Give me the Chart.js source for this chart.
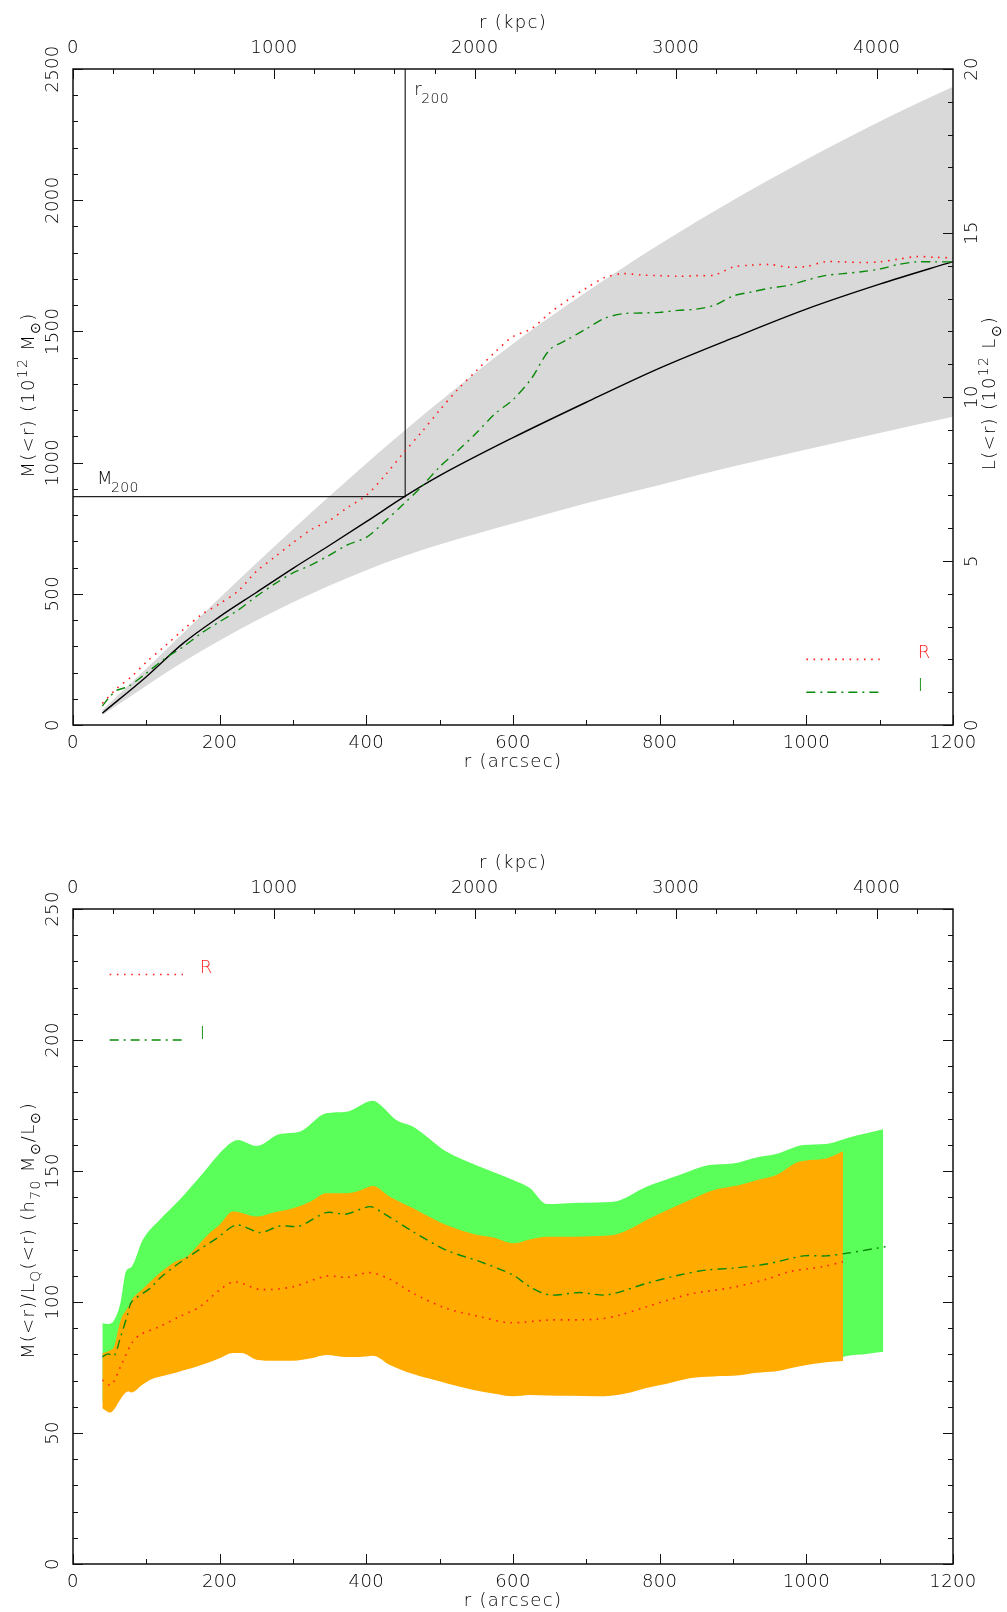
<!DOCTYPE html>
<html>
<head>
<meta charset="utf-8">
<title>M(&lt;r) and M/L profiles</title>
<script src="https://cdn.jsdelivr.net/npm/chart.js@4.4.1/dist/chart.umd.min.js"></script>
<style>
html, body { margin: 0; padding: 0; background: #fff; }
canvas { display: block; }
</style>
</head>
<body>
<canvas id="massChart" width="1007" height="800"></canvas>
<canvas id="ratioChart" width="1007" height="812"></canvas>
<script>
// axis tick labels
const xTicks = [0, 200, 400, 600, 800, 1000, 1200];
const kpcTicks = [0, 1000, 2000, 3000, 4000];
const massTicks = [0, 500, 1000, 1500, 2000, 2500];
const lumTicks = [0, 5, 10, 15, 20];
const ratioTicks = [0, 50, 100, 150, 200, 250];

const KPC_MAX = 4380;   // 1200 arcsec in kpc
const R200 = 453;
const M200 = 870;

// top panel: NFW fit and its band (10^12 Msun)
const nfwR = [40, 100, 150, 200, 250, 300, 350, 400, 453, 500, 600, 700, 800, 900, 1000, 1100, 1200];
const nfwMass = [45, 184, 311, 413, 505, 597, 685, 775, 872, 950, 1095, 1230, 1360, 1475, 1585, 1680, 1766];

const bandR = [40, 100, 150, 200, 250, 300, 350, 400, 450, 500, 555, 600, 700, 800, 900, 1000, 1100, 1200];
const bandHigh = [57, 215, 350, 484, 616, 746, 873, 997, 1117, 1233, 1356, 1453, 1650, 1832, 2000, 2155, 2300, 2432];
const bandLow = [38, 150, 240, 322, 398, 468, 532, 590, 642, 688, 733, 768, 845, 915, 985, 1050, 1113, 1175];

// top panel: luminosity L(<r) (10^12 Lsun), R and I band
const lumRadR = [40, 60, 80, 100, 125, 150, 175, 200, 225, 250, 275, 300, 325, 350, 375, 400, 425, 450, 475, 500,
  525, 550, 575, 600, 625, 650, 675, 700, 725, 750, 775, 800, 825, 850, 875, 900, 925, 950, 975, 1000,
  1025, 1050, 1075, 1100, 1125, 1150, 1175, 1200];
const lumR = [0.66, 1.12, 1.48, 1.92, 2.40, 2.90, 3.36, 3.70, 4.08, 4.68, 5.12, 5.56, 5.96, 6.24, 6.64, 7.00, 7.60, 8.28, 8.92, 9.60,
  10.24, 10.80, 11.36, 11.84, 12.08, 12.56, 12.96, 13.32, 13.64, 13.76, 13.72, 13.70, 13.68, 13.70, 13.72, 13.96, 14.02, 14.04, 13.96, 13.98,
  14.12, 14.12, 14.10, 14.12, 14.20, 14.28, 14.26, 14.24];

const lumRadI = [40, 50, 60, 75, 100, 125, 150, 175, 200, 225, 250, 275, 300, 325, 350, 375, 400, 425, 450, 475, 500,
  525, 550, 575, 600, 625, 650, 675, 700, 725, 750, 775, 800, 825, 850, 875, 900, 925, 950, 975, 1000,
  1025, 1050, 1075, 1100, 1125, 1150, 1175, 1200];
const lumI = [0.58, 0.86, 1.06, 1.17, 1.58, 2.02, 2.38, 2.80, 3.15, 3.50, 3.92, 4.30, 4.64, 4.88, 5.18, 5.50, 5.72, 6.20, 6.72, 7.26, 7.87,
  8.37, 8.90, 9.48, 9.92, 10.56, 11.44, 11.76, 12.08, 12.40, 12.54, 12.56, 12.58, 12.64, 12.68, 12.80, 13.08, 13.20, 13.32, 13.40, 13.56,
  13.70, 13.76, 13.82, 13.90, 14.04, 14.12, 14.12, 14.12];

// bottom panel: M/L uncertainty bands
const iBandR = [40, 48, 56, 65, 72, 80, 95, 118, 145, 173, 209, 225, 250, 282, 309, 345, 373, 409, 418, 441, 464, 509, 555, 600,
  623, 646, 691, 737, 782, 827, 868, 900, 932, 959, 996, 1027, 1050, 1055, 1082, 1105];
const iBandHigh = [91.9, 91.6, 93, 100, 111.5, 113.5, 123.7, 131.3, 138.9, 147.8, 159.3, 161.8, 159.5, 164.1, 165, 172, 172.6, 176.8, 175.5, 169.5, 166.9, 157.4, 151.6, 146.6,
  143.5, 137.4, 137.9, 138.3, 144, 148.5, 152.3, 152.9, 155.2, 156.5, 159.9, 160.3, 162, 162.5, 164.4, 165.9];
const iBandLow = [62, 61, 62, 66, 68, 69, 71, 74, 76, 78, 81, 82, 80, 80, 80, 81, 81, 81, 80, 78, 75, 71, 68, 66,
  66, 66, 66, 66, 69, 71, 73, 74, 75, 76, 77, 78.5, 79, 79.4, 80.2, 81];

const rBandR = [40, 50, 56, 65, 75, 80, 95, 110, 118, 140, 155, 170, 186, 200, 218, 230, 250, 275, 300, 325, 345, 373, 390, 409, 432,
  464, 493, 509, 546, 575, 600, 623, 646, 680, 714, 737, 760, 782, 810, 841, 873, 909, 932, 959, 991, 1027, 1050];
const rBandHigh = [80.4, 81.5, 82.9, 93.1, 98, 100.8, 105, 109, 111, 115.5, 117.3, 121.5, 126.2, 129.5, 134.5, 134, 132.6, 134.3, 135.8, 138.5, 141.5, 141.5, 142.5, 144.3, 140.2,
  135.8, 131.5, 129.4, 126, 124.5, 122.4, 123.9, 124.9, 124.9, 125.2, 125.6, 128, 131.3, 135, 138.9, 142.7, 144.7, 146.5, 148.5, 153.6, 154.8, 157.5];
const rBandLow = [59.4, 57.8, 59, 63, 65.8, 65.5, 68.5, 70.9, 71.5, 73, 74.2, 75.5, 77, 78.5, 80.5, 80.5, 78, 77.6, 77.6, 78.5, 79.8, 79, 79, 79.5, 76,
  72.5, 70.2, 69, 66.4, 65, 64, 64.5, 64.3, 64.2, 64, 64.3, 65.5, 67.2, 68.8, 70.9, 71.6, 72, 73, 73.6, 75.5, 77, 77.5];

// bottom panel: M/L curves
const mlRadR = [40, 52, 65, 80, 91, 118, 145, 173, 200, 220, 255, 300, 345, 373, 405, 432, 464, 509, 555, 595, 646, 714, 746,
  782, 827, 846, 900, 946, 977, 1023, 1050];
const mlR = [70.2, 68.3, 75.5, 84.2, 87.4, 90.6, 94.4, 98.2, 104.6, 107.7, 104.8, 105.8, 109.9, 109.4, 111.2, 108.7, 103.3, 97.6, 94.4, 92.1, 93.1, 93.4, 95,
  98.2, 102, 103.3, 105.6, 108.7, 111.6, 113.5, 115.4];
const mlRadI = [40, 48, 56, 65, 75, 80, 105, 118, 141, 168, 196, 223, 255, 282, 309, 345, 373, 405, 423, 464, 509, 555, 600, 623, 650,
  691, 728, 782, 827, 864, 900, 946, 996, 1027, 1055, 1108];
const mlI = [79.1, 80.2, 79.4, 86.8, 95.7, 100.1, 105.2, 109, 114.1, 119.2, 124.3, 129.4, 126.5, 129, 129, 134.1, 133.6, 136.4, 133.9, 126.8, 119.8, 115.4, 110.3, 105.8, 102.7,
  103.6, 102.7, 107.1, 110.3, 112.2, 112.9, 114.5, 117.6, 117.6, 118.6, 121.1];

const FONT = '"DejaVu Sans", sans-serif';
const INK = '#000';
const RED = '#ff1f1f';
const GREEN = '#0a8a0a';
const DOT = [1.6, 5.6];
const DASHDOT = [9, 5, 2, 5];

const pts = (xs, ys) => xs.map((x, i) => ({ x: x, y: ys[i] }));

// text with sub/superscripts: parts = [[text, shift]] shift 1 = sup, -1 = sub
function richText(ctx, parts, cx, cy, size, rotate) {
  ctx.save();
  ctx.translate(cx, cy);
  if (rotate) ctx.rotate(-Math.PI / 2);
  ctx.textAlign = 'left';
  ctx.textBaseline = 'alphabetic';
  ctx.letterSpacing = '1.3px';
  const fontFor = s => '200 ' + (s ? Math.round(size * 0.78) : size) + 'px ' + FONT;
  let total = 0;
  const widths = parts.map(p => {
    ctx.font = fontFor(p[1]);
    const w = ctx.measureText(p[0]).width;
    total += w;
    return w;
  });
  let x = -total / 2;
  parts.forEach((p, i) => {
    ctx.font = fontFor(p[1]);
    const dy = p[1] === 1 ? -size * 0.42 : p[1] === -1 ? size * 0.3 : 0;
    ctx.fillText(p[0], x, size * 0.36 + dy);
    x += widths[i];
  });
  ctx.restore();
}

function vText(ctx, txt, x, y) {
  ctx.save();
  ctx.translate(x, y);
  ctx.rotate(-Math.PI / 2);
  ctx.textAlign = 'center';
  ctx.textBaseline = 'middle';
  ctx.fillText(txt, 0, 0);
  ctx.restore();
}

function drawTicks(ctx, scale, ax, edge, dir, horizontal) {
  for (let v = scale.min; v <= scale.max + 1e-9; v += ax.minor) {
    const isMajor = Math.abs(v / ax.major - Math.round(v / ax.major)) < 1e-6;
    const len = isMajor ? 10 : 5;
    const p = Math.round(scale.getPixelForValue(v)) + 0.5;
    ctx.beginPath();
    if (horizontal) { ctx.moveTo(p, edge); ctx.lineTo(p, edge + dir * len); }
    else { ctx.moveTo(edge, p); ctx.lineTo(edge + dir * len, p); }
    ctx.stroke();
  }
}

function axisFrame(cfg) {
  return {
    id: 'axisFrame',
    afterDatasetsDraw(chart) {
      const ctx = chart.ctx, a = chart.chartArea, s = chart.scales;
      const midX = (a.left + a.right) / 2, midY = (a.top + a.bottom) / 2;
      ctx.save();
      ctx.strokeStyle = '#111';
      ctx.lineWidth = 1;
      drawTicks(ctx, s.x, { minor: 100, major: 200 }, a.bottom, -1, true);
      drawTicks(ctx, s.xk, { minor: 200, major: 1000 }, a.top, 1, true);
      drawTicks(ctx, s.y, cfg.left, a.left, 1, false);
      drawTicks(ctx, s[cfg.right.scale], cfg.right, a.right, -1, false);
      ctx.lineWidth = 1.5;
      ctx.strokeRect(a.left, a.top, a.right - a.left, a.bottom - a.top);

      ctx.fillStyle = INK;
      ctx.font = '200 18px ' + FONT;
      ctx.letterSpacing = '0.4px';
      ctx.textAlign = 'center';
      ctx.textBaseline = 'middle';
      xTicks.forEach(v => ctx.fillText(String(v), s.x.getPixelForValue(v), a.bottom + 18));
      kpcTicks.forEach(v => ctx.fillText(String(v), s.xk.getPixelForValue(v), a.top - 21));
      cfg.left.labels.forEach(v => vText(ctx, String(v), a.left - 20, s.y.getPixelForValue(v)));
      if (cfg.right.labels) {
        cfg.right.labels.forEach(v => vText(ctx, String(v), a.right + 19, s[cfg.right.scale].getPixelForValue(v)));
      }
      richText(ctx, [['r (kpc)', 0]], midX, a.top - 47, 18, false);
      richText(ctx, [['r (arcsec)', 0]], midX, a.bottom + 36, 18, false);
      richText(ctx, cfg.leftTitle, a.left - 45, midY + cfg.leftTitleShift, 18, true);
      if (cfg.rightTitle) richText(ctx, cfg.rightTitle, a.right + 36, midY - 4, 18, true);

      // legend
      const lg = cfg.legend;
      lg.rows.forEach(row => {
        const y = s.y.getPixelForValue(row.y);
        ctx.save();
        ctx.strokeStyle = row.color;
        ctx.lineWidth = row.width;
        ctx.setLineDash(row.dash);
        ctx.beginPath();
        ctx.moveTo(s.x.getPixelForValue(lg.x0), y);
        ctx.lineTo(s.x.getPixelForValue(lg.x1), y);
        ctx.stroke();
        ctx.restore();
        ctx.fillStyle = row.color;
        ctx.textAlign = 'left';
        ctx.fillText(row.text, s.x.getPixelForValue(lg.labelX), y - 6);
      });
      if (cfg.extra) cfg.extra(ctx, a, s);
      ctx.restore();
    }
  };
}

const baseOptions = (padding, yMax, extraScales) => ({
  responsive: false,
  animation: false,
  devicePixelRatio: 1,
  layout: { padding: padding },
  plugins: { legend: { display: false }, tooltip: { enabled: false } },
  elements: { point: { radius: 0 } },
  scales: Object.assign({
    x: { type: 'linear', min: 0, max: 1200, display: false },
    xk: { type: 'linear', position: 'top', min: 0, max: KPC_MAX, display: false },
    y: { type: 'linear', min: 0, max: yMax, display: false }
  }, extraScales)
});

const band = (xs, ys, color, fill, order) => ({
  data: pts(xs, ys), fill: fill, backgroundColor: color, borderColor: 'rgba(0,0,0,0)',
  borderWidth: 0, cubicInterpolationMode: 'monotone', order: order
});

new Chart(document.getElementById('massChart'), {
  type: 'line',
  data: {
    datasets: [
      band(bandR, bandHigh, '#d9d9d9', '+1', 10),
      band(bandR, bandLow, '#d9d9d9', false, 10),
      { data: pts(nfwR, nfwMass), borderColor: '#000', borderWidth: 1.4, cubicInterpolationMode: 'monotone', order: 3 },
      { data: [{ x: 0, y: M200 }, { x: R200, y: M200 }, { x: R200, y: 2500 }], borderColor: '#222', borderWidth: 1.2, order: 3 },
      { data: pts(lumRadR, lumR), yAxisID: 'yl', borderColor: RED, borderWidth: 1.6, borderDash: DOT, tension: 0.3, order: 1 },
      { data: pts(lumRadI, lumI), yAxisID: 'yl', borderColor: GREEN, borderWidth: 1.4, borderDash: DASHDOT, tension: 0.3, order: 1 }
    ]
  },
  options: baseOptions({ left: 73, right: 54, top: 69, bottom: 75 }, 2500,
    { yl: { type: 'linear', position: 'right', min: 0, max: 20, display: false } }),
  plugins: [axisFrame({
    left: { minor: 100, major: 500, labels: massTicks },
    right: { scale: 'yl', minor: 1, major: 5, labels: lumTicks },
    leftTitle: [['M(<r) (10', 0], ['12', 1], [' M', 0], ['⊙', -1], [')', 0]],
    leftTitleShift: -2,
    rightTitle: [['L(<r) (10', 0], ['12', 1], [' L', 0], ['⊙', -1], [')', 0]],
    legend: {
      x0: 1000, x1: 1100, labelX: 1152,
      rows: [
        { y: 250, text: 'R', color: RED, dash: DOT, width: 1.6 },
        { y: 125, text: 'I', color: GREEN, dash: DASHDOT, width: 1.4 }
      ]
    },
    extra(ctx, a, s) {
      const xr = s.x.getPixelForValue(R200), ym = s.y.getPixelForValue(M200);
      ctx.fillStyle = INK;
      ctx.textAlign = 'left';
      ctx.textBaseline = 'alphabetic';
      ctx.font = '200 18px ' + FONT;
      ctx.fillText('M', a.left + 24, ym - 13);
      ctx.fillText('r', xr + 9, a.top + 26);
      ctx.font = '200 14px ' + FONT;
      ctx.fillText('200', a.left + 38, ym - 5);
      ctx.fillText('200', xr + 16, a.top + 34);
    }
  })]
});

new Chart(document.getElementById('ratioChart'), {
  type: 'line',
  data: {
    datasets: [
      band(iBandR, iBandHigh, '#5aff5a', '+1', 30),
      band(iBandR, iBandLow, '#5aff5a', false, 30),
      band(rBandR, rBandHigh, '#ffab00', '+1', 20),
      band(rBandR, rBandLow, '#ffab00', false, 20),
      { data: pts(mlRadR, mlR), borderColor: RED, borderWidth: 1.6, borderDash: DOT, tension: 0.3, order: 1 },
      { data: pts(mlRadI, mlI), borderColor: GREEN, borderWidth: 1.4, borderDash: DASHDOT, tension: 0.3, order: 1 }
    ]
  },
  options: baseOptions({ left: 73, right: 54, top: 109, bottom: 48 }, 250, {}),
  plugins: [axisFrame({
    left: { minor: 10, major: 50, labels: ratioTicks },
    right: { scale: 'y', minor: 10, major: 50, labels: null },
    leftTitle: [['M(<r)/L', 0], ['Q', -1], ['(<r) (h', 0], ['70', -1], [' M', 0], ['⊙', -1], ['/L', 0], ['⊙', -1], [')', 0]],
    leftTitleShift: -6,
    legend: {
      x0: 50, x1: 150, labelX: 173,
      rows: [
        { y: 225, text: 'R', color: RED, dash: DOT, width: 1.6 },
        { y: 200, text: 'I', color: GREEN, dash: DASHDOT, width: 1.4 }
      ]
    }
  })]
});
</script>
</body>
</html>
